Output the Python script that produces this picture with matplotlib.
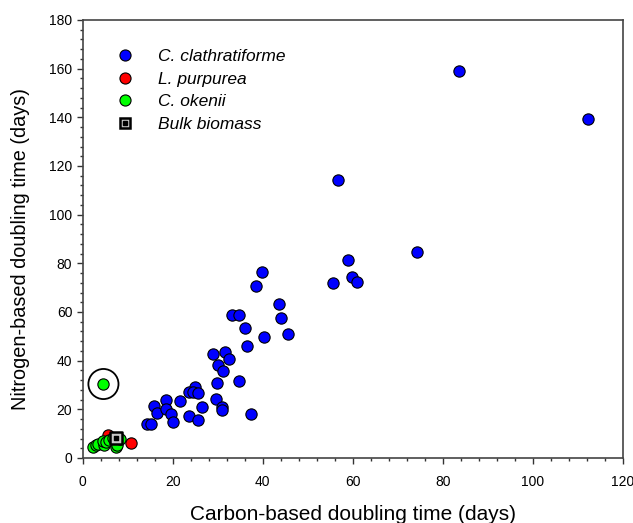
import matplotlib
matplotlib.use("Agg")
import matplotlib.pyplot as plt
from matplotlib.lines import Line2D

# C. clathratiforme (carbon-based, nitrogen-based doubling time, days)
clath_c = [83.5, 112.2, 74.3, 56.7, 59.0, 59.9, 61.0, 55.5, 39.8, 38.5,
           43.5, 44.0, 45.5, 40.3, 33.2, 34.8, 36.1, 36.5, 29.0, 31.5,
           32.5, 30.0, 31.1, 34.7, 29.8, 25.0, 23.5, 24.4, 25.7, 29.5,
           30.9, 31.0, 37.3, 26.6, 21.6, 18.6, 15.8, 16.4, 18.4, 19.6,
           20.1, 23.6, 25.7, 14.2, 15.2]
clath_n = [158.9, 139.5, 84.8, 114.1, 81.4, 74.3, 72.5, 71.9, 76.4, 70.8,
           63.3, 57.7, 51.0, 49.9, 58.6, 58.6, 53.3, 46.2, 42.9, 43.7,
           40.6, 38.1, 35.9, 31.6, 30.9, 29.3, 27.1, 27.0, 26.8, 24.1,
           21.1, 19.7, 18.2, 20.8, 23.6, 23.7, 21.2, 18.5, 20.1, 18.2,
           14.8, 17.3, 15.7, 14.1, 13.9]

# L. purpurea
purp_c = [5.6, 10.7]
purp_n = [9.6, 6.2]

# C. okenii
oken_c = [4.6, 2.2, 2.9, 3.5, 4.7, 4.6, 5.2, 5.9, 6.8, 7.3, 7.6, 8.3]
oken_n = [30.4, 4.5, 5.3, 5.9, 5.2, 7.1, 6.5, 7.4, 8.1, 4.7, 5.2, 7.7]

# bulk biomass
bulk_c = [7.3]
bulk_n = [8.4]

# circled outlier
outlier = (4.6, 30.4)

plt.rcParams["font.family"] = ["Liberation Sans", "DejaVu Sans"]

fig = plt.figure(figsize=(6.33, 5.23), dpi=100)
ax = fig.add_axes([0.1307, 0.1243, 0.8533, 0.8375])

kw = dict(s=66, edgecolors="black", linewidths=0.8)
ax.scatter(clath_c, clath_n, c="#0000ff", zorder=3, **kw)
ax.scatter(purp_c, purp_n, c="#ff0000", zorder=3, **kw)
ax.scatter(oken_c, oken_n, c="#00ff00", zorder=4, **kw)
ax.scatter(bulk_c, bulk_n, marker="s", s=70, c="#c8c8c8",
           edgecolors="black", linewidths=1.8, zorder=5)
ax.scatter(bulk_c, bulk_n, marker="s", s=6, c="black", zorder=6)
ax.scatter([outlier[0]], [outlier[1]], s=470, facecolors="none",
           edgecolors="black", linewidths=1.3, zorder=5)

ax.set_xlim(0, 120)
ax.set_ylim(0, 180)
ax.set_xticks(range(0, 121, 20))
ax.set_yticks(range(0, 181, 20))
ax.set_xticks(range(0, 121, 4), minor=True)
ax.set_yticks(range(0, 181, 4), minor=True)
ax.tick_params(which="major", direction="out", length=4.5, width=1,
               color="#333333", labelsize=10)
ax.tick_params(which="minor", direction="out", length=2.4, width=1,
               color="#333333")
ax.tick_params(axis="x", which="major", pad=8)
ax.tick_params(axis="y", which="major", pad=3)
for sp in ax.spines.values():
    sp.set_color("#444444")
    sp.set_linewidth(1.2)

ax.set_xlabel("Carbon-based doubling time (days)", fontsize=15, labelpad=11)
ax.set_ylabel("Nitrogen-based doubling time (days)", fontsize=14.3)
ax.yaxis.set_label_coords(-0.0976, 0.477)

handles = [
    Line2D([], [], ls="none", marker="o", ms=8, mfc="#0000ff", mec="black", mew=0.8),
    Line2D([], [], ls="none", marker="o", ms=8, mfc="#ff0000", mec="black", mew=0.8),
    Line2D([], [], ls="none", marker="o", ms=8, mfc="#00ff00", mec="black", mew=0.8),
    (Line2D([], [], ls="none", marker="s", ms=7.5, mfc="#c8c8c8", mec="black", mew=1.8),
     Line2D([], [], ls="none", marker="s", ms=2.2, mfc="black", mec="black")),
]
labels = ["C. clathratiforme", "L. purpurea", "C. okenii", "Bulk biomass"]
ax.legend(handles, labels, loc="upper left", bbox_to_anchor=(0.018, 0.969),
          frameon=False, prop={"style": "italic", "size": 12.5},
          handletextpad=0.9, labelspacing=0.42)

fig.savefig("out.png", dpi=100)
